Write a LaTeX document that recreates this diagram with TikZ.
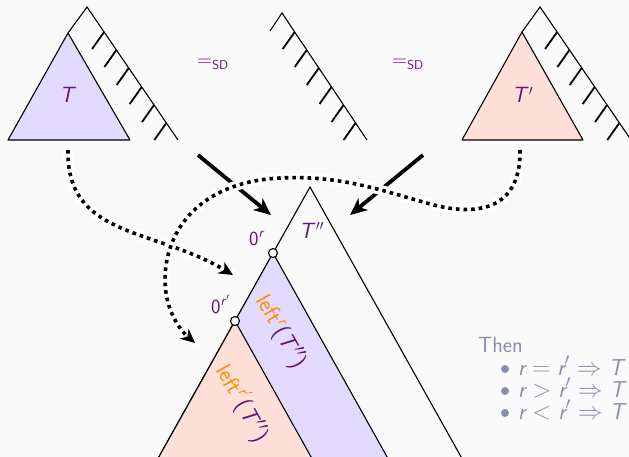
\documentclass[tikz,border=0pt]{standalone}
\usetikzlibrary{arrows.meta}
\definecolor{bgc}{RGB}{250,250,250}
\definecolor{lav}{RGB}{226,218,255}
\definecolor{peach}{RGB}{255,224,216}
\definecolor{purp}{RGB}{100,20,120}
\definecolor{orng}{RGB}{255,140,0}
\definecolor{grayb}{RGB}{135,145,170}
\newcommand{\labfont}{\sffamily\fontsize{20}{24}\selectfont}
\newcommand{\rotfont}{\sffamily\fontsize{23}{27}\selectfont}
\begin{document}
\begin{tikzpicture}[x=1pt,y=-1pt,
  font=\sffamily\fontsize{22}{26}\selectfont,
  edge/.style={line width=1.1pt, line join=miter},
  hatch/.style={line width=1.8pt},
  tri/.style={draw, line width=1.1pt, line join=round},
  solidarrow/.style={line width=3.8pt, -{Stealth[length=17pt,width=15pt,inset=5pt]}},
  halo/.style={white, line width=10pt, line cap=round},
  dotarrow/.style={line width=3.6pt, dash pattern=on 3.6pt off 4pt, -{Stealth[length=14pt,width=13pt,inset=4pt]}},
  lab/.style={text=purp, inner sep=0pt},
  hole/.style={circle, draw, fill=white, line width=1.1pt, minimum size=9pt, inner sep=0pt},
  graytext/.style={text=grayb, inner sep=0pt, anchor=base west},
  bul/.style={circle, fill=grayb, minimum size=8pt, inner sep=0pt}
]
\useasboundingbox (0,0) rectangle (629,457);
\fill[bgc] (0,0) rectangle (629,457);
\clip (0,0) rectangle (629,457);

% left tree
\draw[edge] (68,33) -- (87,7) -- (178,140);
\foreach \y in {32,50,68,87,105,123} \draw[hatch] ({87+(\y-7)*0.684},\y) -- ++(-12,17);
\draw[tri, fill=lav] (68,33) -- (8,140) -- (130,140) -- cycle;
\node[lab, anchor=base] (t1) at (68,103) {\textit{T}};

% middle tree
\draw[edge] (270,31) -- (282,13) -- (367,140);
\foreach \y in {32,50,68,87,105,123} \draw[hatch] ({282+(\y-13)*0.669},\y) -- ++(-12,17);

% right tree
\draw[edge] (522,32) -- (540,7) -- (640,153);
\foreach \y in {32,50,68,87,105,123} \draw[hatch] ({540+(\y-7)*0.684},\y) -- ++(-12,17);
\draw[tri, fill=peach] (522,32) -- (462,140) -- (583,140) -- cycle;
\node[lab, anchor=base west] (t2) at (512,103) {\textit{T}$'$};

% =SD
\node[lab, anchor=base west, font=\sffamily\fontsize{20}{24}\selectfont] (eq1) at (197,67) {$=$\raisebox{-3pt}{\fontsize{13}{13}\selectfont SD}};
\node[lab, anchor=base west, font=\sffamily\fontsize{20}{24}\selectfont] (eq2) at (392,67) {$=$\raisebox{-3pt}{\fontsize{13}{13}\selectfont SD}};

% big tree T''
\draw[tri] (146,480) -- (310,187) -- (474,480);
\draw[tri, fill=lav] (146,480) -- (273,253) -- (400,480);
\draw[tri, fill=peach] (146,480) -- (235,321) -- (324,480);
\node[hole] (z1) at (273,253) {};
\node[hole] (z2) at (235,321) {};
\node[lab, anchor=base west] (l0r) at (249,245) {\labfont 0\textsuperscript{\textit{r}}};
\node[lab, anchor=base west] (l0rr) at (211,313) {\labfont 0\textsuperscript{\textit{r}$'$}};
\node[lab, anchor=base west] (tpp) at (299,238) {\textit{T}$''$};
\node[lab, rotate=-60.8] (lr) at (281,332) {\rotfont{\color{orng}left\textsuperscript{\textit{r}}}(\textit{T}$''$)};
\node[lab, rotate=-60.8] (lrr) at (243,403) {\rotfont{\color{orng}left\textsuperscript{\textit{r}$'$}}(\textit{T}$''$)};

% solid arrows
\coordinate (a1s) at (198,155);
\coordinate (a1e) at (271,215);
\coordinate (a2s) at (423,155);
\coordinate (a2e) at (350,215);
\draw[solidarrow] (a1s) -- (a1e);
\draw[solidarrow] (a2s) -- (a2e);

% dotted arrows
\coordinate (d1s) at (68,150);
\coordinate (d1e) at (233,275);
\coordinate (d2s) at (520,150);
\coordinate (d2e) at (195,343);
\draw[halo] (d1s) .. controls (66,238) and (155,228) .. (d1e);
\draw[dotarrow] (d1s) .. controls (66,238) and (155,228) .. (d1e);
\draw[halo] (d2s) .. controls (521,215) and (470,215) .. (430,204)
  .. controls (380,190) and (340,175) .. (280,178)
  .. controls (200,182) and (165,230) .. (165,280)
  .. controls (165,310) and (180,330) .. (d2e);
\draw[dotarrow] (d2s) .. controls (521,215) and (470,215) .. (430,204)
  .. controls (380,190) and (340,175) .. (280,178)
  .. controls (200,182) and (165,230) .. (165,280)
  .. controls (165,310) and (180,330) .. (d2e);

% text on right
\node[graytext] (then) at (478,352) {Then};
\node[bul] (bu1) at (505,369) {};
\node[bul] (bu2) at (505,391) {};
\node[bul] (bu3) at (505,413) {};
\node[graytext, font=\sffamily\fontsize{23}{26}\selectfont] (b1) at (518,375) {$\textit{r} = \textit{r}' \Rightarrow \textit{T}$};
\node[graytext, font=\sffamily\fontsize{23}{26}\selectfont] (b2) at (518,397) {$\textit{r} > \textit{r}' \Rightarrow \textit{T}$};
\node[graytext, font=\sffamily\fontsize{23}{26}\selectfont] (b3) at (518,419) {$\textit{r} < \textit{r}' \Rightarrow \textit{T}$};
\end{tikzpicture}
\end{document}
